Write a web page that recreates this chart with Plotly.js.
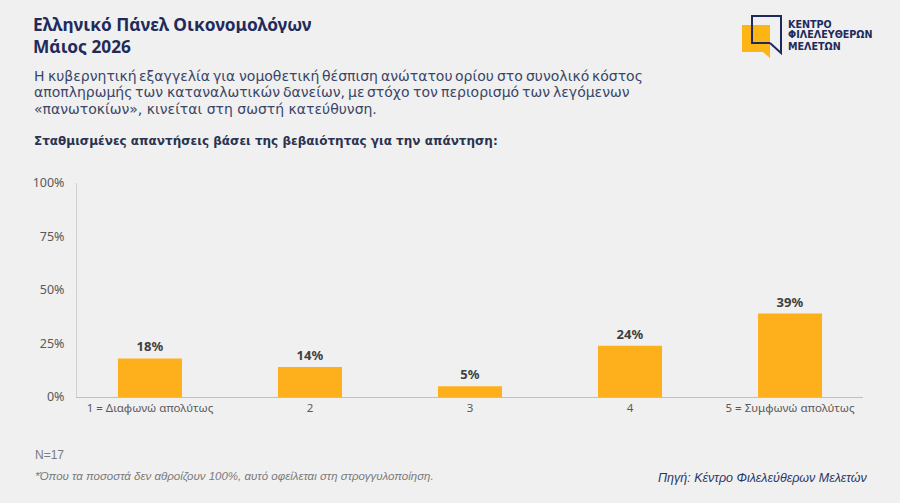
<!DOCTYPE html>
<html><head><meta charset="utf-8">
<script src="https://cdn.plot.ly/plotly-3.0.1.min.js"></script>
<style>html,body{margin:0;padding:0;background:#F0F0F0;}#chart{width:900px;height:503px;}</style>
</head><body><div id="chart"></div>
<script>
const categories = ['1 = Διαφωνώ απολύτως', '2', '3', '4', '5 = Συμφωνώ απολύτως'];
const values = [0.18, 0.14, 0.05, 0.24, 0.39];
const valueLabels = ['18%', '14%', '5%', '24%', '39%'];
const yTickVals = [0, 0.25, 0.5, 0.75, 1];
const yTickText = ['0%', '25%', '50%', '75%', '100%'];

const titleLines = ['Ελληνικό Πάνελ Οικονομολόγων', 'Μάιος 2026'];
const subtitleLines = [
  'Η κυβερνητική εξαγγελία για νομοθετική θέσπιση ανώτατου ορίου στο συνολικό κόστος',
  'αποπληρωμής των καταναλωτικών δανείων, με στόχο τον περιορισμό των λεγόμενων',
  '«πανωτοκίων», κινείται στη σωστή κατεύθυνση.'
];
const questionText = 'Σταθμισμένες απαντήσεις βάσει της βεβαιότητας για την απάντηση:';
const sampleText = 'N=17';
const footnoteText = '*Όπου τα ποσοστά δεν αθροίζουν 100%, αυτό οφείλεται στη στρογγυλοποίηση.';
const sourceText = 'Πηγή: Κέντρο Φιλελεύθερων Μελετών';
const logoLines = ['ΚΕΝΤΡΟ', 'ΦΙΛΕΛΕΥΘΕΡΩΝ', 'ΜΕΛΕΤΩΝ'];

const W = 900, H = 503;
const M = {l: 77, r: 37, t: 183, b: 106};
const pw = W - M.l - M.r, ph = H - M.t - M.b;
const px = x => (x - M.l) / pw;
const py = y => (H - M.b - y) / ph;

const NAVY = '#1F2B5B';
const TEXTNAVY = '#3A4668';
const FONT = 'Noto Sans, Open Sans, sans-serif';
const DV = 'DejaVu Sans, Verdana, sans-serif';
const NARROW = 'Liberation Sans Narrow, Arial Narrow, sans-serif';

const annotations = [];
function addText(text, x, y, font, opts) {
  annotations.push(Object.assign({
    xref: 'paper', yref: 'paper', x: px(x), y: py(y), xanchor: 'left', yanchor: 'middle',
    text: text, showarrow: false, font: font
  }, opts || {}));
  return annotations.length - 1;
}

const titleFont = {family: FONT, size: 17.3, color: NAVY};
addText('<b>' + titleLines[0] + '</b>', 31, 24.5, titleFont, {height: 18});
addText('<b>' + titleLines[1] + '</b>', 31, 45.5, titleFont, {height: 18});

// subtitle: first two lines justified between X0 and X1 (word positions set after measuring)
const subFont = {family: DV, size: 14, color: TEXTNAVY};
const X0 = 33, X1 = 619;
const justified = [];
[[subtitleLines[0], 76], [subtitleLines[1], 92.5]].forEach(([line, y]) => {
  const idx = line.split(' ').map(w => addText(w, X0, y, subFont, {height: 16}));
  justified.push(idx);
});
addText(subtitleLines[2], 32, 109, subFont, {height: 16});

addText('<b>' + questionText + '</b>', 32, 141, {family: DV, size: 12, color: '#2A3350'}, {height: 16});

addText(sampleText, 33, 455, {family: NARROW, size: 12, color: '#7A7A7A'});
addText('<i>' + footnoteText + '</i>', 33, 476, {family: NARROW, size: 11.5, color: '#7A7A7A'});
addText('<i>' + sourceText + '</i>', 870, 478, {family: NARROW, size: 12.5, color: '#2B3668'}, {xanchor: 'right'});

logoLines.forEach((t, i) => {
  addText('<b>' + t + '</b>', 786, 24 + i * 11, {family: DV, size: 9.6, color: NAVY}, {height: 11});
});

function pathFrom(pts, close) {
  return pts.map((p, i) => (i ? 'L' : 'M') + px(p[0]).toFixed(5) + ',' + py(p[1]).toFixed(5)).join(' ') + (close ? ' Z' : '');
}
const shapes = [
  {type: 'path', xref: 'paper', yref: 'paper', layer: 'above',
   path: pathFrom([[742, 25], [770, 25], [770, 58], [763, 52], [742, 52]], true),
   fillcolor: '#FDB515', line: {width: 0}},
  {type: 'path', xref: 'paper', yref: 'paper', layer: 'above',
   path: pathFrom([[770, 43], [752, 43], [752, 16], [781, 16], [781, 53], [770, 43]], false),
   fillcolor: 'rgba(0,0,0,0)', line: {color: '#1E2A5E', width: 2}}
];

const trace = {
  type: 'bar', x: categories, y: values,
  text: valueLabels, textposition: 'outside', texttemplate: '<b>%{text}</b>',
  textfont: {family: FONT, size: 13, color: '#404040'},
  marker: {color: '#FDB01B'}, width: 0.4, cliponaxis: false, hoverinfo: 'none'
};

const layout = {
  width: W, height: H, margin: M, paper_bgcolor: '#F0F0F0', plot_bgcolor: '#F0F0F0',
  showlegend: false, font: {family: FONT},
  xaxis: {type: 'category', range: [-0.456, 4.456], showgrid: false, zeroline: false,
    showline: true, linecolor: '#BFBFBF', linewidth: 1, ticks: '',
    tickfont: {family: FONT, size: 11.5, color: '#595959'}},
  yaxis: {range: [0, 1], tickvals: yTickVals, ticktext: yTickText, showgrid: false, zeroline: false,
    showline: true, linecolor: '#D0D0D0', linewidth: 1, ticks: 'outside', ticklen: 9, tickcolor: 'rgba(0,0,0,0)',
    tickfont: {family: FONT, size: 12.5, color: '#595959'}},
  annotations: annotations, shapes: shapes
};

Plotly.newPlot('chart', [trace], layout, {displayModeBar: false, staticPlot: true}).then(gd => {
  const upd = {};
  justified.forEach(idx => {
    const widths = idx.map(i => {
      const el = gd.querySelector('g.annotation[data-index="' + i + '"] text.annotation-text');
      return el ? el.getBBox().width : 0;
    });
    const total = widths.reduce((a, b) => a + b, 0);
    const gap = Math.max(3, (X1 - X0 - total) / (idx.length - 1));
    let x = X0;
    idx.forEach((i, k) => {
      upd['annotations[' + i + '].x'] = px(x - 1);
      x += widths[k] + gap;
    });
  });
  return Plotly.relayout(gd, upd);
});
</script></body></html>
